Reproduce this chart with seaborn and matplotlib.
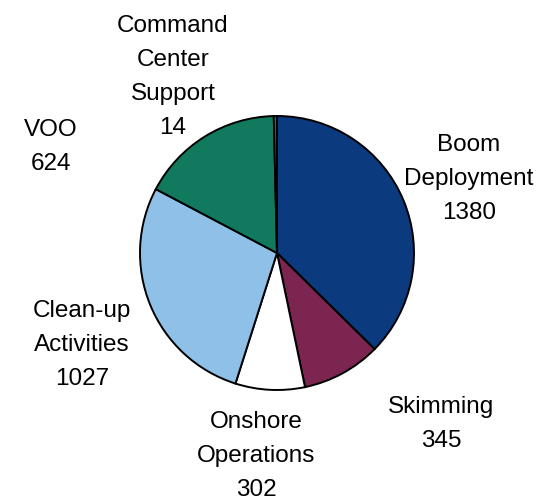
import matplotlib
matplotlib.use("Agg")
import matplotlib.pyplot as plt
import seaborn as sns

# Datos del grafico
categorias = ["Boom\nDeployment", "Skimming", "Onshore\nOperations",
              "Clean-up\nActivities", "VOO", "Command\nCenter\nSupport"]
valores = [1380, 345, 302, 1027, 624, 14]
colores = ["#0b3a7e", "#7b2550", "#ffffff", "#8ec0e8", "#117a5e", "#117a5e"]

# posiciones de las etiquetas (pixeles, origen abajo-izquierda)
pos_etiquetas = [(469, 324), (441, 79), (256, 47), (82, 158), (51, 356), (173, 426)]

sns.set_theme(style="white")
plt.rcParams["font.family"] = ["Liberation Sans", "DejaVu Sans"]

fig = plt.figure(figsize=(5.57, 5.03), dpi=100)
ax = fig.add_axes([0, 0, 1, 1])
ax.pie(valores, colors=colores, startangle=90, counterclock=False,
       center=(277, 250), radius=137,
       wedgeprops={"edgecolor": "black", "linewidth": 1.4})
ax.set_xlim(0, 557)
ax.set_ylim(0, 503)
ax.set_aspect("equal")
ax.axis("off")

for cat, val, (x, y) in zip(categorias, valores, pos_etiquetas):
    ax.text(x, y, f"{cat}\n{val}", ha="center", va="center",
            fontsize=17.5, linespacing=1.72, color="black")

fig.savefig("out.png", dpi=100)
